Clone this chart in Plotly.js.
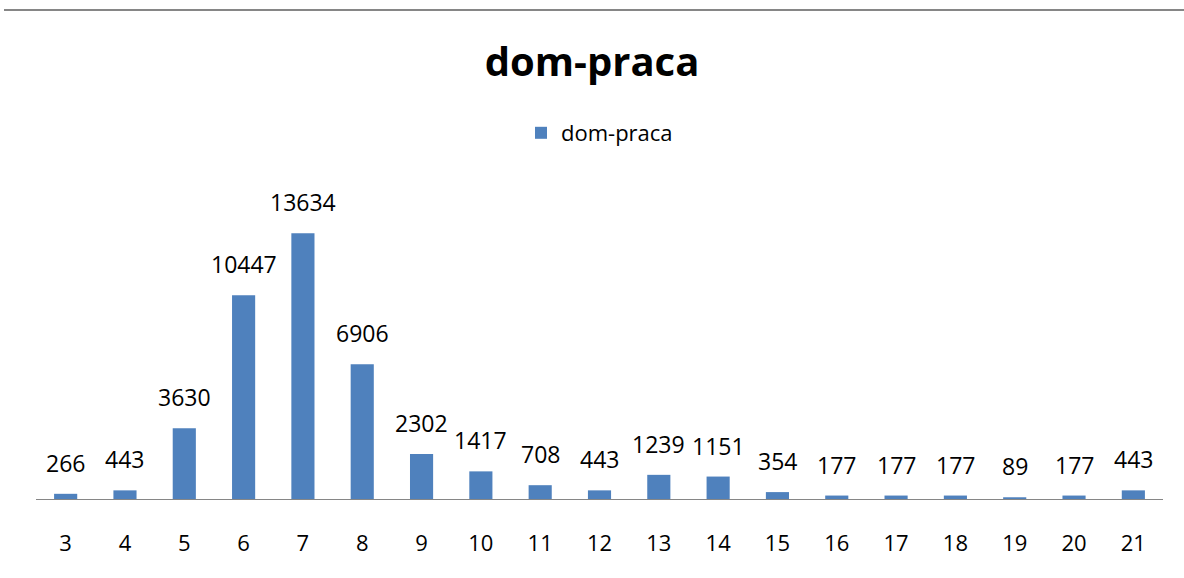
<!DOCTYPE html>
<html>
<head>
<meta charset="utf-8">
<script src="https://cdn.plot.ly/plotly-3.0.1.min.js"></script>
<style>html,body{margin:0;padding:0;background:#fff;}#chart{width:1184px;height:578px;}</style>
</head>
<body>
<div id="chart"></div>
<script>
const categories = ['3','4','5','6','7','8','9','10','11','12','13','14','15','16','17','18','19','20','21'];
const values = [266,443,3630,10447,13634,6906,2302,1417,708,443,1239,1151,354,177,177,177,89,177,443];
const seriesName = 'dom-praca';
const chartTitle = 'dom-praca';

const FONT = '"Open Sans", "Liberation Sans", sans-serif';
const W = 1184, H = 578;
const mL = 36, mR = 21, mT = 187, mB = 79;
const plotW = W - mL - mR, plotH = H - mT - mB;

const trace = {
  type: 'bar',
  x: categories,
  y: values,
  name: seriesName,
  marker: {color: '#4F81BD'},
  hoverinfo: 'x+y',
  showlegend: true
};

// On a category axis a numeric x is read as the category's index
const annotations = categories.map((c, i) => ({
  x: i, y: values[i], xref: 'x', yref: 'y',
  text: String(values[i]),
  showarrow: false,
  yanchor: 'bottom',
  yshift: 13,
  font: {family: FONT, size: 23, color: '#000'}
}));

const layout = {
  width: W, height: H,
  margin: {l: mL, r: mR, t: mT, b: mB},
  paper_bgcolor: '#fff',
  plot_bgcolor: '#fff',
  title: {
    text: '<b>' + chartTitle + '</b>',
    font: {family: FONT, size: 40, color: '#000'},
    x: 0.5, xanchor: 'center',
    y: 1 - 62 / H, yref: 'container', yanchor: 'middle'
  },
  showlegend: true,
  legend: {
    orientation: 'h',
    x: 0.5, xanchor: 'center',
    y: 1 - 133 / H, yref: 'container', yanchor: 'middle',
    font: {family: FONT, size: 22, color: '#000'},
    itemwidth: 30
  },
  bargap: 0.61,
  xaxis: {
    type: 'category',
    range: [-0.5, categories.length - 0.5],
    showline: true, linecolor: '#868686', linewidth: 1,
    ticks: 'outside', ticklen: 25, tickcolor: 'rgba(0,0,0,0)',
    tickfont: {family: FONT, size: 22, color: '#000'},
    showgrid: false, zeroline: false, fixedrange: true
  },
  yaxis: {
    visible: false, range: [0, 16000], showgrid: false, zeroline: false, fixedrange: true
  },
  annotations: annotations,
  shapes: [{
    type: 'line', xref: 'paper', yref: 'paper',
    x0: (4 - mL) / plotW, x1: (W - mL) / plotW,
    y0: (H - mB - 10) / plotH, y1: (H - mB - 10) / plotH,
    line: {color: '#868686', width: 2}
  }]
};

Plotly.newPlot('chart', [trace], layout, {displayModeBar: false, staticPlot: true});
</script>
</body>
</html>
